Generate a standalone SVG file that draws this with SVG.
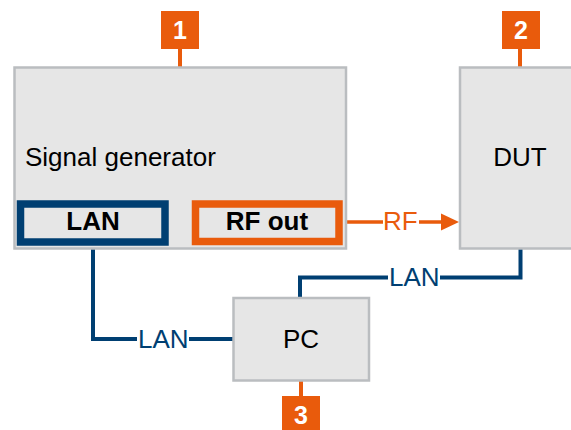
<svg xmlns="http://www.w3.org/2000/svg" width="571" height="430" viewBox="0 0 571 430">
<style>
.box{fill:#e6e6e6;stroke:#babdc0;stroke-width:2.5}
.t{font-family:"Liberation Sans",Arial,sans-serif;font-size:26px;fill:#000}
.b{font-weight:bold}
.badge{fill:#e95b0c}
.bt{font-family:"Liberation Sans",Arial,sans-serif;font-size:25px;font-weight:bold;fill:#fff;text-anchor:middle}
.bl{stroke:#e95b0c;stroke-width:4;fill:none}
.lan{stroke:#003f72;stroke-width:4;fill:none}
.rf{stroke:#e95b0c;stroke-width:3.5;fill:none}
.lt{font-family:"Liberation Sans",Arial,sans-serif;font-size:26px;fill:#003f72}
.rt{font-family:"Liberation Sans",Arial,sans-serif;font-size:26px;fill:#e95b0c}
</style>
<g id="connectors">
<line class="bl" x1="180" y1="48" x2="180" y2="67"/>
<line class="bl" x1="520" y1="48" x2="520" y2="67"/>
<line class="bl" x1="301" y1="381" x2="301" y2="397"/>
<line class="rf" x1="342" y1="222" x2="383" y2="222"/>
<text class="rt" x="383" y="230">RF</text>
<line class="rf" x1="419" y1="222" x2="443" y2="222"/>
<polygon points="441,213.5 459,222 441,230.5" fill="#e95b0c"/>
<path class="lan" d="M93,246 V339 H137"/>
<text class="lt" x="138" y="347.5">LAN</text>
<line class="lan" x1="189" y1="339" x2="233" y2="339"/>
<path class="lan" d="M300,297 V277.5 H388"/>
<text class="lt" x="389" y="285.5">LAN</text>
<path class="lan" d="M440,277.5 H520.5 V249"/>
</g>
<g id="signal-generator">
<rect class="box" x="14.5" y="67.5" width="331.5" height="181"/>
<text class="t" x="25" y="166">Signal generator</text>
</g>
<g id="lan-port">
<rect x="20.5" y="204" width="144.5" height="38" fill="#e6e6e6" stroke="#003f72" stroke-width="7.5"/>
<text class="t b" x="93" y="230" text-anchor="middle">LAN</text>
</g>
<g id="rf-out-port">
<rect x="195.5" y="204" width="143.5" height="37.5" fill="#e6e6e6" stroke="#e95b0c" stroke-width="7.5"/>
<text class="t b" x="267" y="230" text-anchor="middle">RF out</text>
</g>
<g id="dut">
<rect class="box" x="460" y="67.5" width="125" height="181"/>
<text class="t" x="520" y="166" text-anchor="middle">DUT</text>
</g>
<g id="pc">
<rect class="box" x="233.5" y="298" width="135.5" height="82.5"/>
<text class="t" x="301" y="347.5" text-anchor="middle">PC</text>
</g>
<g id="badge-1">
<rect class="badge" x="161" y="11" width="38" height="38"/>
<text class="bt" x="180" y="38.5">1</text>
</g>
<g id="badge-2">
<rect class="badge" x="502" y="11" width="38" height="38"/>
<text class="bt" x="521" y="38.5">2</text>
</g>
<g id="badge-3">
<rect class="badge" x="282" y="396" width="38" height="38"/>
<text class="bt" x="301" y="423.5">3</text>
</g>
</svg>
